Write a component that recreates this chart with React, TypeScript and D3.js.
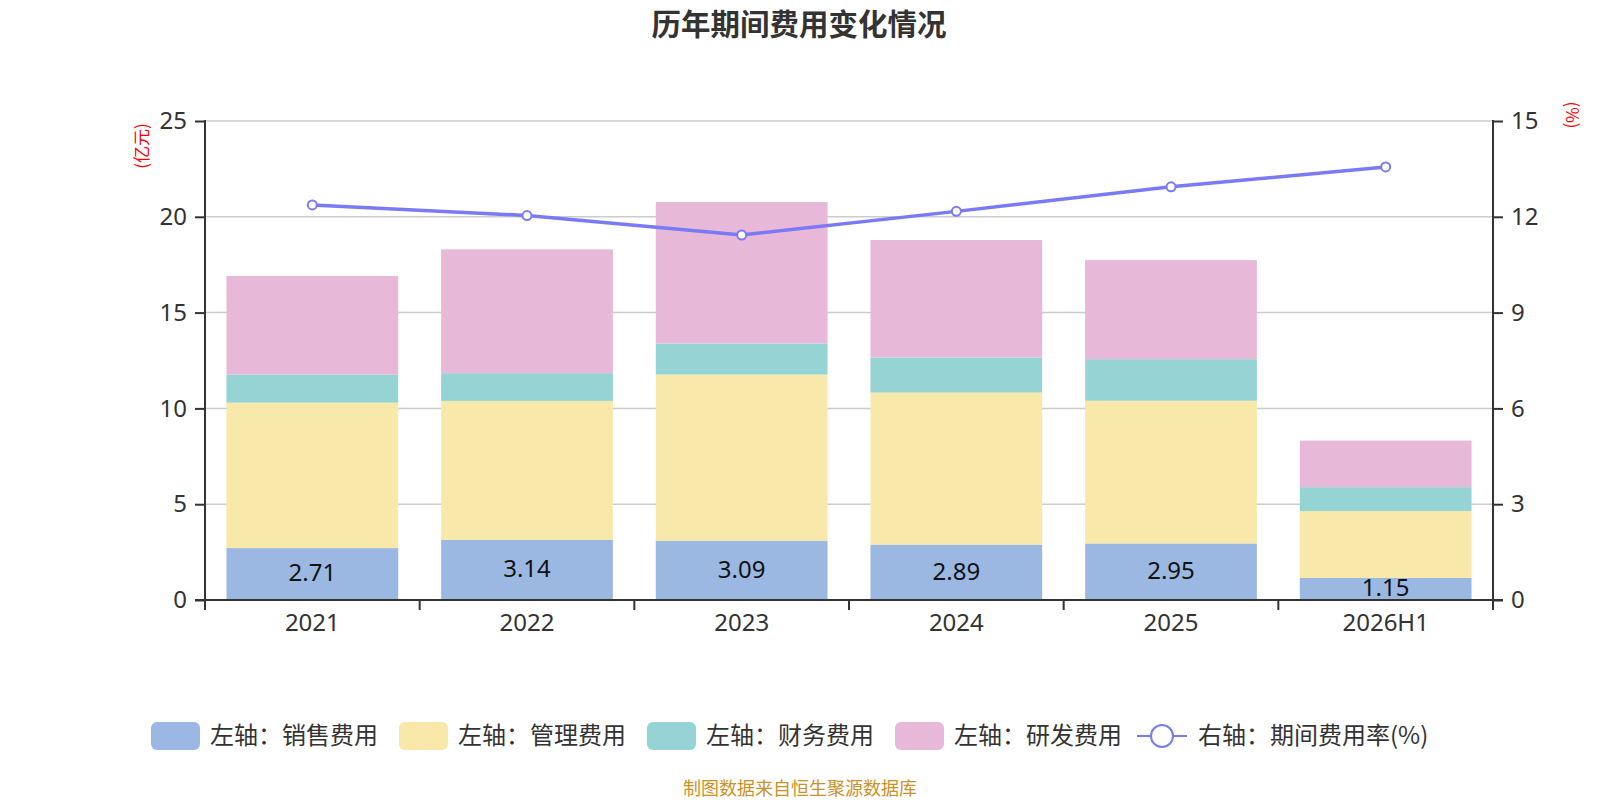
import React, { useEffect, useRef } from 'react';
import * as d3 from 'd3';

const categories = ['2021', '2022', '2023', '2024', '2025', '2026H1'];
const salesExp = [2.71, 3.14, 3.09, 2.89, 2.95, 1.15];
const adminExp = [7.59, 7.25, 8.68, 7.94, 7.45, 3.49];
const financeExp = [1.47, 1.45, 1.62, 1.83, 2.17, 1.25];
const rdExp = [5.14, 6.46, 7.38, 6.13, 5.17, 2.43];
const expenseRate = [12.37, 12.04, 11.43, 12.17, 12.94, 13.56];

const leftTicks = [0, 5, 10, 15, 20, 25];
const rightTicks = [0, 3, 6, 9, 12, 15];

const seriesNames = ['左轴：销售费用', '左轴：管理费用', '左轴：财务费用', '左轴：研发费用'];
const lineName = '右轴：期间费用率(%)';
const seriesColors = ['#9bb8e2', '#f8e8aa', '#96d3d4', '#e7b8d8'];
const lineColor = '#7a7af5';

const FONT = '"Noto Sans", "Noto Sans CJK SC", sans-serif';
const CJK = '"Noto Sans CJK SC", sans-serif';

const App: React.FC = () => {
  const svgRef = useRef<SVGSVGElement | null>(null);

  useEffect(() => {
    const svg = d3.select(svgRef.current);
    svg.selectAll('*').remove();
    const width = 1600;
    const height = 800;
    svg.attr('width', width).attr('height', height);

    const left = 205, right = 1493, top = 121, bottom = 600;

    const x = d3.scaleBand().domain(categories).range([left, right]).paddingInner(0.2).paddingOuter(0.1);
    const xOuter = d3.scaleBand().domain(categories).range([left, right]);
    const y = d3.scaleLinear().domain([0, 25]).range([bottom, top]);
    const y2 = d3.scaleLinear().domain([0, 15]).range([bottom, top]);

    // title
    svg.append('text')
      .attr('x', 799).attr('y', 35)
      .attr('text-anchor', 'middle')
      .attr('font-family', CJK)
      .attr('font-weight', 'bold')
      .attr('font-size', 29.5)
      .attr('fill', '#333')
      .text('历年期间费用变化情况');

    // gridlines
    svg.append('g').selectAll('line')
      .data(leftTicks.filter(t => t > 0))
      .join('line')
      .attr('x1', left).attr('x2', right)
      .attr('y1', d => y(d)).attr('y2', d => y(d))
      .attr('stroke', '#ccc').attr('stroke-width', 1.5);

    // stacked bars
    const table = categories.map((c, i) => ({
      cat: c,
      s0: salesExp[i], s1: adminExp[i], s2: financeExp[i], s3: rdExp[i],
    }));
    const stack = d3.stack<any>().keys(['s0', 's1', 's2', 's3'])(table);

    svg.append('g').selectAll('g')
      .data(stack)
      .join('g')
      .attr('fill', (_, i) => seriesColors[i])
      .selectAll('rect')
      .data(d => d)
      .join('rect')
      .attr('x', d => x(d.data.cat) as number)
      .attr('width', x.bandwidth())
      .attr('y', d => y(d[1]))
      .attr('height', d => y(d[0]) - y(d[1]));

    // bar labels (sales)
    svg.append('g').selectAll('text')
      .data(table)
      .join('text')
      .attr('x', d => (x(d.cat) as number) + x.bandwidth() / 2)
      .attr('y', d => (y(0) + y(d.s0)) / 2 + 1)
      .attr('text-anchor', 'middle')
      .attr('dominant-baseline', 'middle')
      .attr('font-family', FONT)
      .attr('font-size', 24)
      .attr('fill', '#111')
      .text(d => d.s0.toFixed(2));

    // axes
    const axisColor = '#333';
    const gl = svg.append('g').attr('transform', `translate(${left},0)`)
      .call(d3.axisLeft(y).tickValues(leftTicks).tickSize(10).tickPadding(8));
    const gr = svg.append('g').attr('transform', `translate(${right},0)`)
      .call(d3.axisRight(y2).tickValues(rightTicks).tickSize(10).tickPadding(8));
    const gx = svg.append('g').attr('transform', `translate(0,${bottom})`)
      .call(d3.axisBottom(xOuter).tickSize(0).tickPadding(14));
    [gl, gr, gx].forEach(g => {
      g.select('.domain').remove();
      g.selectAll('line').attr('stroke', axisColor).attr('stroke-width', 2);
      g.selectAll('text').attr('font-family', FONT).attr('font-size', 24).attr('fill', '#333');
    });
    // axis lines
    svg.append('line').attr('x1', left).attr('x2', left).attr('y1', top - 1).attr('y2', bottom)
      .attr('stroke', axisColor).attr('stroke-width', 2);
    svg.append('line').attr('x1', right).attr('x2', right).attr('y1', top - 1).attr('y2', bottom)
      .attr('stroke', axisColor).attr('stroke-width', 2);
    svg.append('line').attr('x1', left - 10).attr('x2', right + 10).attr('y1', bottom).attr('y2', bottom)
      .attr('stroke', axisColor).attr('stroke-width', 2);
    // category boundary ticks
    const bounds = categories.map(c => xOuter(c) as number).concat([right]);
    svg.append('g').selectAll('line')
      .data(bounds)
      .join('line')
      .attr('x1', d => d).attr('x2', d => d)
      .attr('y1', bottom).attr('y2', bottom + 10)
      .attr('stroke', axisColor).attr('stroke-width', 2);

    // axis names
    svg.append('text')
      .attr('transform', 'translate(143,146) rotate(-90)')
      .attr('text-anchor', 'middle')
      .attr('dominant-baseline', 'middle')
      .attr('font-family', CJK)
      .attr('font-size', 17)
      .attr('fill', 'red')
      .text('(亿元)');
    svg.append('text')
      .attr('transform', 'translate(1571,115) rotate(90)')
      .attr('text-anchor', 'middle')
      .attr('dominant-baseline', 'middle')
      .attr('font-family', CJK)
      .attr('font-size', 17)
      .attr('fill', 'red')
      .text('(%)');

    // line
    const cx = (c: string) => (xOuter(c) as number) + xOuter.bandwidth() / 2;
    const line = d3.line<number>()
      .x((_, i) => cx(categories[i]))
      .y(d => y2(d));
    svg.append('path')
      .datum(expenseRate)
      .attr('d', line)
      .attr('fill', 'none')
      .attr('stroke', lineColor)
      .attr('stroke-width', 3.5);
    svg.append('g').selectAll('circle')
      .data(expenseRate)
      .join('circle')
      .attr('cx', (_, i) => cx(categories[i]))
      .attr('cy', d => y2(d))
      .attr('r', 4.5)
      .attr('fill', '#fff')
      .attr('stroke', lineColor)
      .attr('stroke-width', 2);

    // legend
    const ly = 736;
    const lx0 = 151, step = 248;
    const lg = svg.append('g');
    seriesNames.forEach((name, i) => {
      const lx = lx0 + i * step;
      lg.append('rect')
        .attr('x', lx).attr('y', ly - 14)
        .attr('width', 49).attr('height', 28)
        .attr('rx', 6)
        .attr('fill', seriesColors[i]);
      lg.append('text')
        .attr('x', lx + 59).attr('y', ly + 1)
        .attr('dominant-baseline', 'middle')
        .attr('font-family', CJK)
        .attr('font-size', 24)
        .attr('fill', '#333')
        .text(name);
    });
    const llx = lx0 + 4 * step - 6;
    lg.append('line')
      .attr('x1', llx).attr('x2', llx + 50)
      .attr('y1', ly).attr('y2', ly)
      .attr('stroke', lineColor).attr('stroke-width', 2);
    lg.append('circle')
      .attr('cx', llx + 25).attr('cy', ly).attr('r', 11)
      .attr('fill', '#fff').attr('stroke', lineColor).attr('stroke-width', 2);
    lg.append('text')
      .attr('x', llx + 61).attr('y', ly + 1)
      .attr('dominant-baseline', 'middle')
      .attr('font-family', CJK)
      .attr('font-size', 24)
      .attr('fill', '#333')
      .text(lineName);

    // footer
    svg.append('text')
      .attr('x', 800).attr('y', 790)
      .attr('text-anchor', 'middle')
      .attr('dominant-baseline', 'middle')
      .attr('font-family', CJK)
      .attr('font-size', 18)
      .attr('fill', '#c8922a')
      .text('制图数据来自恒生聚源数据库');
  }, []);

  return (
    <svg ref={svgRef} style={{ position: 'absolute', left: 0, top: 0, background: '#fff' }}></svg>
  );
};

export default App;
